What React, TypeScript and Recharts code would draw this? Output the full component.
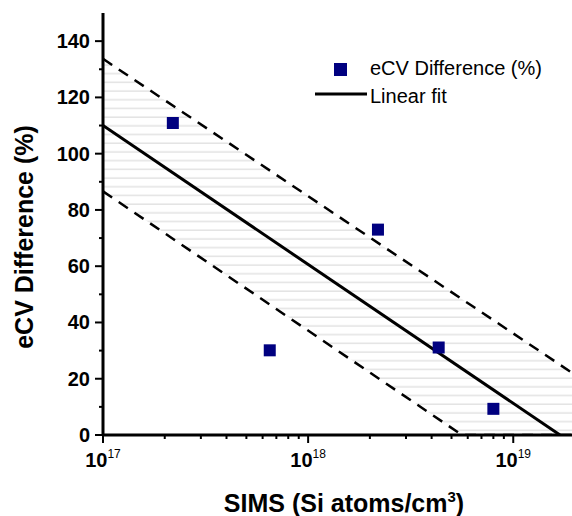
import { ComposedChart, Area, Line, Scatter, XAxis, YAxis, Legend } from 'recharts'

const FONT = '"Liberation Sans", Arial, Helvetica, sans-serif'
const NAVY = '#000080'

// measured points: SIMS (Si atoms/cm3) vs eCV difference (%)
const sims = [2.19e17, 6.5e17, 2.19e18, 4.33e18, 8.0e18]
const ecv = [110.9, 30.1, 73.0, 31.1, 9.3]

// linear fit and its band, read at the ends / kinks
const fitX = [1e17, 5.62e18, 1.69e19, 2e19]
const fitY = [110, null, 0, null]
const upperY = [133.7, null, null, 21.4]
const lowerY = [86.6, 0, null, 0]
const bandHigh = [133.7, 48.3, null, 21.4]

const xTicks = [
  1e17, 2e17, 3e17, 4e17, 5e17, 6e17, 7e17, 8e17, 9e17,
  1e18, 2e18, 3e18, 4e18, 5e18, 6e18, 7e18, 8e18, 9e18,
  1e19, 2e19,
]
const xMajor = [1e17, 1e18, 1e19]
const xExp = ['17', '18', '19']
const yTicks = [0, 10, 20, 30, 40, 50, 60, 70, 80, 90, 100, 110, 120, 130, 140]

const legendNames = ['eCV Difference (%)', 'Linear fit']

const lineData = fitX.map((x, i) => ({
  x,
  fit: fitY[i],
  upper: upperY[i],
  lower: lowerY[i],
  band: bandHigh[i] == null ? null : [lowerY[i], bandHigh[i]],
}))
const points = sims.map((x, i) => ({ x, y: ecv[i] }))

const axisLine = { stroke: '#000', strokeWidth: 3 }

const BottomTick = ({ x, y, payload }: any) => {
  const i = xMajor.indexOf(payload.value)
  return (
    <g>
      <line x1={x} x2={x} y1={y} y2={y + (i >= 0 ? 8 : 4)} stroke="#000" strokeWidth={2} />
      {i >= 0 && (
        <text x={x} y={y + 32} textAnchor="middle" fontFamily={FONT} fill="#000">
          <tspan fontSize={20} fontWeight="bold">10</tspan>
          <tspan fontSize={12} dy={-9}>{xExp[i]}</tspan>
        </text>
      )}
    </g>
  )
}

const TopTick = ({ x, y, payload }: any) => {
  const major = xMajor.includes(payload.value)
  return <line x1={x} x2={x} y1={y} y2={y + (major ? 7 : 4)} stroke="#000" strokeWidth={2} />
}

const LeftTick = ({ x, y, payload }: any) => {
  const major = payload.value % 20 === 0
  return (
    <g>
      <line x1={x - (major ? 8 : 4)} x2={x} y1={y} y2={y} stroke="#000" strokeWidth={2} />
      {major && (
        <text x={x - 13} y={y + 7} textAnchor="end" fontFamily={FONT} fontSize={20} fontWeight="bold" fill="#000">
          {payload.value}
        </text>
      )}
    </g>
  )
}

const RightTick = ({ x, y, payload }: any) => {
  const major = payload.value % 20 === 0
  return <line x1={x} x2={x - (major ? 7 : 4)} y1={y} y2={y} stroke="#000" strokeWidth={2} />
}

const XTitle = ({ viewBox }: any) => (
  <text x={viewBox.x + viewBox.width / 2 + 5} y={viewBox.y + 77} textAnchor="middle" fontFamily={FONT} fontSize={25} fontWeight="bold" fill="#000">
    SIMS (Si atoms/cm<tspan fontSize={15} dy={-10}>3</tspan><tspan dy={10}>)</tspan>
  </text>
)

const YTitle = ({ viewBox }: any) => {
  const cx = 33
  const cy = viewBox.y + viewBox.height / 2 + 13
  return (
    <text x={cx} y={cy} transform={`rotate(-90, ${cx}, ${cy})`} textAnchor="middle" fontFamily={FONT} fontSize={25} fontWeight="bold" fill="#000">
      eCV Difference (%)
    </text>
  )
}

const LegendBox = () => (
  <svg width={262} height={60} style={{ display: 'block' }}>
    <rect x={24} y={11} width={13} height={13} fill={NAVY} />
    <text x={60} y={23} fontFamily={FONT} fontSize={20} fill="#000">{legendNames[0]}</text>
    <line x1={5} x2={57} y1={42} y2={42} stroke="#000" strokeWidth={3} />
    <text x={60} y={51} fontFamily={FONT} fontSize={20} fill="#000">{legendNames[1]}</text>
  </svg>
)

const Square = ({ cx, cy }: any) => <rect x={cx - 6} y={cy - 6} width={12} height={12} fill={NAVY} />

export default function App() {
  return (
    <div style={{ position: 'absolute', left: 0, top: 0, width: 572, height: 516, overflow: 'hidden', background: '#fff' }}>
      <ComposedChart width={578} height={516} data={lineData} margin={{ top: 13, right: 3, bottom: 0, left: 0 }}>
        <defs>
          <pattern id="hatch" patternUnits="userSpaceOnUse" width={12} height={8.7}>
            <line x1={0} x2={12} y1={4} y2={4} stroke="#d4d4d4" strokeWidth={1} />
          </pattern>
        </defs>
        <XAxis
          dataKey="x"
          type="number"
          scale="log"
          domain={[1e17, 2e19]}
          allowDataOverflow
          ticks={xTicks}
          interval={0}
          tick={<BottomTick />}
          tickLine={false}
          tickSize={0}
          tickMargin={0}
          axisLine={axisLine}
          height={81}
          label={<XTitle />}
        />
        <XAxis
          xAxisId="top"
          orientation="top"
          dataKey="x"
          type="number"
          scale="log"
          domain={[1e17, 2e19]}
          allowDataOverflow
          ticks={xTicks}
          interval={0}
          tick={<TopTick />}
          tickLine={false}
          tickSize={0}
          tickMargin={0}
          axisLine={axisLine}
          height={0}
        />
        <YAxis
          type="number"
          domain={[0, 150]}
          allowDataOverflow
          ticks={yTicks}
          interval={0}
          tick={<LeftTick />}
          tickLine={false}
          tickSize={0}
          tickMargin={0}
          axisLine={axisLine}
          width={103}
          label={<YTitle />}
        />
        <YAxis
          yAxisId="right"
          orientation="right"
          type="number"
          domain={[0, 150]}
          allowDataOverflow
          ticks={yTicks}
          interval={0}
          tick={<RightTick />}
          tickLine={false}
          tickSize={0}
          tickMargin={0}
          axisLine={axisLine}
          width={0}
        />
        <Area dataKey="band" type="linear" fill="url(#hatch)" fillOpacity={1} stroke="none" connectNulls isAnimationActive={false} legendType="none" />
        <Line dataKey="upper" type="linear" stroke="#000" strokeWidth={2.5} strokeDasharray="11 8" dot={false} activeDot={false} connectNulls isAnimationActive={false} legendType="none" />
        <Line dataKey="lower" type="linear" stroke="#000" strokeWidth={2.5} strokeDasharray="11 8" dot={false} activeDot={false} connectNulls isAnimationActive={false} legendType="none" />
        <Line dataKey="fit" name={legendNames[1]} type="linear" stroke="#000" strokeWidth={3} dot={false} activeDot={false} connectNulls isAnimationActive={false} />
        <Scatter data={points} dataKey="y" name={legendNames[0]} shape={<Square />} isAnimationActive={false} />
        <Legend
          layout="vertical"
          align="center"
          verticalAlign="middle"
          content={() => <LegendBox />}
          wrapperStyle={{ position: 'absolute', left: 310, top: 52, width: 262, height: 60 }}
        />
      </ComposedChart>
    </div>
  )
}
